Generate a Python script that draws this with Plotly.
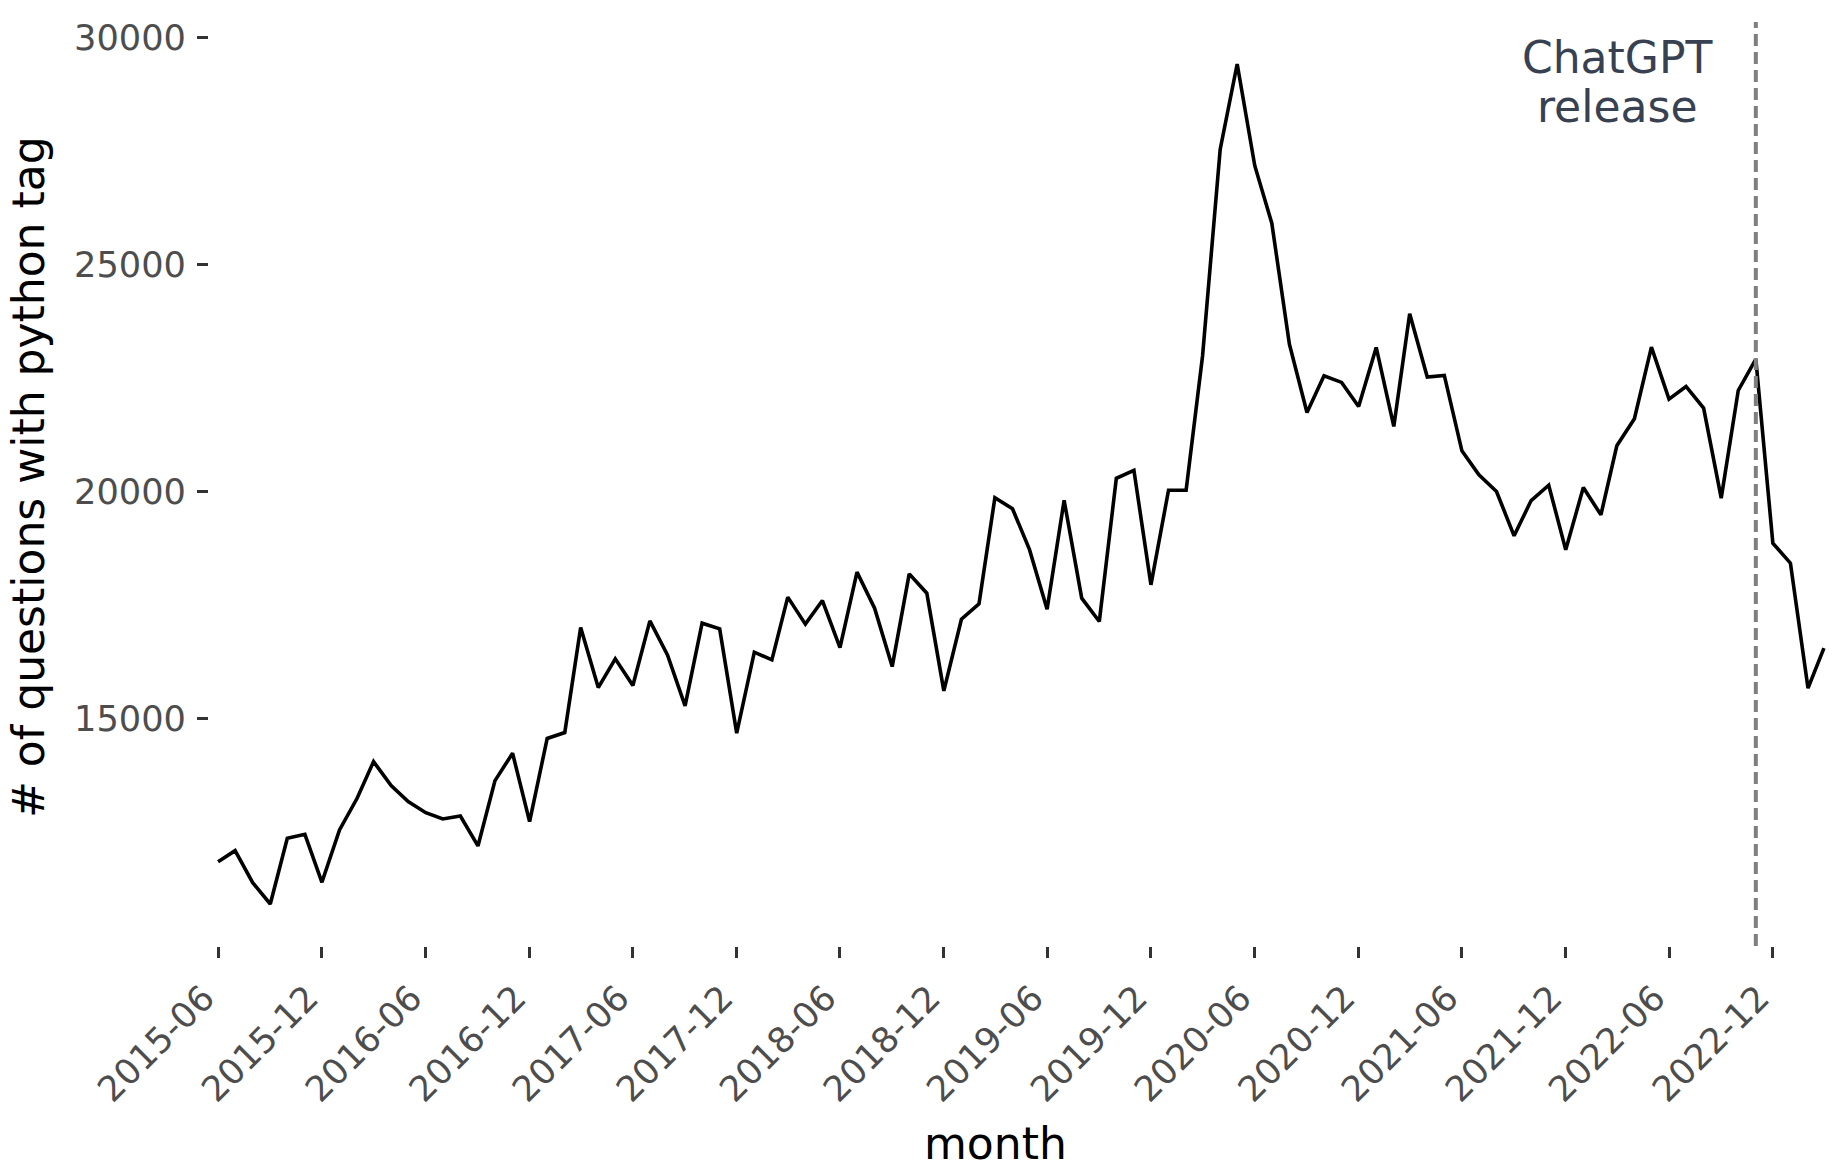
import pandas as pd
import plotly.graph_objects as go

# ---- data -------------------------------------------------------------
first_month = "2015-06-01"
n_months = 94
months = pd.date_range(first_month, periods=n_months, freq="MS")

question_counts = [
    11857, 12100, 11394, 10925, 12372, 12460, 11403, 12555, 13253, 14060,
    13531, 13179, 12936, 12797, 12863, 12203, 13641, 14244, 12738, 14570,
    14699, 17011, 15690, 16322, 15734, 17159, 16410, 15286, 17108, 16982,
    14685, 16469, 16300, 17681, 17086, 17606, 16571, 18231, 17438, 16152,
    18194, 17768, 15617, 17194, 17533, 19872, 19628, 18727, 17416, 19813,
    17659, 17145, 20297, 20473, 17952, 20035, 20035, 22996, 27537, 29419,
    27180, 25914, 23250, 21747, 22555, 22408, 21879, 23179, 21439, 23921,
    22526, 22562, 20903, 20374, 20007, 19031, 19808, 20145, 18722, 20095,
    19493, 21013, 21608, 23187, 22041, 22319, 21843, 19861, 22231, 22923,
    18870, 18429, 15676, 16557,
]

chatgpt_release = "2022-11-01"
annotation_lines = ["ChatGPT", "release"]
annotation_x = "2022-03-01"
annotation_y = [29560, 28475]

y_tickvals = [15000, 20000, 25000, 30000]
x_tick_start = "2015-06-01"
x_range = ["2015-05-16", "2023-03-17"]

x_title = "month"
y_title = "# of questions with python tag"

# ---- figure -----------------------------------------------------------
FONT = "DejaVu Sans"
ymin, ymax = min(question_counts), max(question_counts)
pad = 0.05 * (ymax - ymin)

fig = go.Figure()
fig.add_trace(go.Scatter(
    x=months, y=question_counts, mode="lines",
    line=dict(color="black", width=3.6),
    hoverinfo="skip", showlegend=False,
))

fig.add_shape(
    type="line", xref="x", yref="paper",
    x0=chatgpt_release, x1=chatgpt_release, y0=0, y1=1,
    line=dict(color="#7f7f7f", width=4, dash="12px,6px"),
    layer="above",
)

for txt, yv in zip(annotation_lines, annotation_y):
    fig.add_annotation(
        x=annotation_x, y=yv, xref="x", yref="y", text=txt,
        showarrow=False, xanchor="center", yanchor="middle",
        font=dict(family=FONT, size=44, color="#384152"),
    )

fig.add_annotation(
    x=0.4846, y=-0.2135, xref="paper", yref="paper", text=x_title,
    showarrow=False, xanchor="center", yanchor="middle",
    font=dict(family=FONT, size=44, color="black"),
)
fig.add_annotation(
    x=-0.1108, y=0.5076, xref="paper", yref="paper", text=y_title,
    showarrow=False, xanchor="center", yanchor="middle", textangle=-90,
    font=dict(family=FONT, size=44, color="black"),
)

fig.update_layout(
    width=1839, height=1169,
    margin=dict(l=209, r=6, t=22, b=223, pad=0),
    paper_bgcolor="white", plot_bgcolor="white",
    font=dict(family=FONT),
    showlegend=False,
)
fig.update_xaxes(
    type="date", range=x_range,
    tick0=x_tick_start, dtick="M6", tickformat="%Y-%m",
    tickangle=-45,
    ticks="outside", ticklen=11, tickwidth=3, tickcolor="#333333",
    ticklabelstandoff=5, ticklabelshift=-14,
    tickfont=dict(family=FONT, size=35.2, color="#4d4d4d"),
    showgrid=False, zeroline=False, showline=False,
)
fig.update_yaxes(
    range=[ymin - pad, ymax + pad],
    tickvals=y_tickvals, ticktext=[str(v) for v in y_tickvals],
    ticks="outside", ticklen=11, tickwidth=3, tickcolor="#333333",
    ticklabelstandoff=4,
    tickfont=dict(family=FONT, size=35.2, color="#4d4d4d"),
    showgrid=False, zeroline=False, showline=False,
)

fig.write_html("out.html")
